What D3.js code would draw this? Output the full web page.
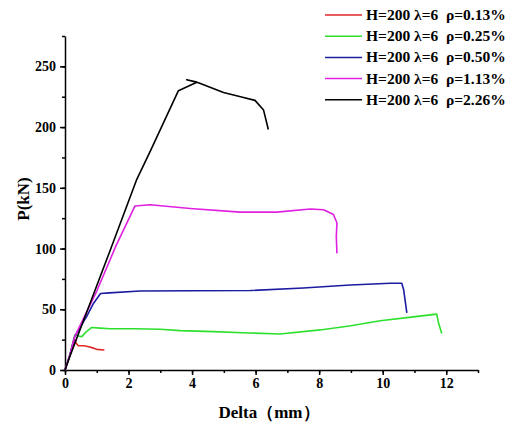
<!DOCTYPE html>
<html lang="en">
<head>
  <meta charset="UTF-8">
  <title>P-Delta curves</title>
  <script src="https://d3js.org/d3.v7.min.js"></script>
  <style>
    body { margin: 0; background: #fff; }
    text { font-family: "Liberation Serif", "Times New Roman", serif; font-weight: bold; }
    .tick text { font-size: 14px; }
    .axis path, .axis line { stroke: #000; stroke-width: 1.5; }
  </style>
</head>
<body>
<svg width="514" height="423"></svg>
<script>
  // legend labels
  const labels = [
    "H=200 λ=6  ρ=0.13%",
    "H=200 λ=6  ρ=0.25%",
    "H=200 λ=6  ρ=0.50%",
    "H=200 λ=6  ρ=1.13%",
    "H=200 λ=6  ρ=2.26%"
  ];
  const colors = ["#e02828", "#2ee02e", "#1c1ca0", "#e020e0", "#000000"];

  // [delta(mm), P(kN)]
  const red = [[0,0],[0.15,12],[0.31,25],[0.35,22],[0.42,20],[0.6,20],[0.75,19.2],[0.9,18],[1.0,17],[1.24,16.5]];
  const green = [[0,0],[0.15,12],[0.31,29],[0.42,28],[0.53,27.5],[0.65,31],[0.84,35],[1.1,34.5],[1.42,34],[2.2,34],[3.0,33.5],[3.62,32.4],[4.67,31.6],[5.8,30.5],[6.77,29.7],[8.03,33],[9.0,36.5],[9.92,40.6],[10.9,43.5],[11.7,46],[11.76,38.4],[11.86,30]];
  const blue = [[0,0],[0.15,12],[0.3,27],[0.45,34],[0.68,44],[0.9,55],[1.12,63],[1.4,63.5],[2.36,65],[4.0,65.2],[5.83,65.4],[7.5,67.5],[8.98,70],[10.24,71.4],[10.6,71.4],[10.66,66],[10.76,47]];
  const magenta = [[0,0],[0.15,12],[0.3,27],[0.5,38],[1.0,65],[1.6,102],[2.2,135],[2.68,136],[3.94,133],[5.51,130],[6.67,130],[7.72,132.6],[8.14,132],[8.45,128],[8.56,121],[8.54,110],[8.56,96]];
  const black = [[0,0],[0.15,11],[0.47,33],[1.4,97],[2.26,157],[2.7,181],[3.57,230],[4.15,237],[3.83,239],[4.2,236.5],[4.99,228.5],[5.62,224.4],[5.98,222],[6.25,214],[6.4,198]];
  const series = [red, green, blue, magenta, black];

  const xTicks = [0, 2, 4, 6, 8, 10, 12];
  const yTicks = [0, 50, 100, 150, 200, 250];

  const svg = d3.select("svg");
  const x = d3.scaleLinear().domain([0, 13]).range([65, 478]);
  const y = d3.scaleLinear().domain([0, 275]).range([370, 36]);

  // minor ticks
  svg.append("g")
    .attr("class", "axis")
    .attr("transform", "translate(0,370)")
    .call(d3.axisBottom(x).tickValues(d3.range(0, 14, 1)).tickSize(3).tickFormat(""))
    .select(".domain").remove();
  svg.append("g")
    .attr("class", "axis")
    .attr("transform", "translate(65,0)")
    .call(d3.axisLeft(y).tickValues(d3.range(0, 276, 25)).tickSize(3).tickFormat(""))
    .select(".domain").remove();

  // major axes
  svg.append("g")
    .attr("class", "axis")
    .attr("transform", "translate(0,370)")
    .call(d3.axisBottom(x).tickValues(xTicks).tickSize(5).tickSizeOuter(0).tickPadding(3));
  svg.append("g")
    .attr("class", "axis")
    .attr("transform", "translate(65,0)")
    .call(d3.axisLeft(y).tickValues(yTicks).tickSize(5).tickSizeOuter(0).tickPadding(4));

  // curves
  const line = d3.line().x(d => x(d[0])).y(d => y(d[1]));
  svg.selectAll(".curve")
    .data(series)
    .enter()
    .append("path")
    .attr("class", "curve")
    .attr("fill", "none")
    .attr("stroke", (d, i) => colors[i])
    .attr("stroke-width", 1.6)
    .attr("stroke-linejoin", "round")
    .attr("d", line);

  // axis titles
  svg.append("text")
    .attr("x", 269).attr("y", 418)
    .attr("text-anchor", "middle")
    .attr("font-size", 17)
    .text("Delta（mm）");
  svg.append("text")
    .attr("transform", "translate(29,199) rotate(-90)")
    .attr("text-anchor", "middle")
    .attr("font-size", 17)
    .text("P(kN)");

  // legend
  const legend = svg.append("g");
  labels.forEach((lab, i) => {
    const ly = 15 + i * 21.2;
    legend.append("line")
      .attr("x1", 325).attr("x2", 362)
      .attr("y1", ly).attr("y2", ly)
      .attr("stroke", colors[i]).attr("stroke-width", 1.5);
    legend.append("text")
      .attr("x", 366).attr("y", ly + 5)
      .attr("font-size", 15.5)
      .style("white-space", "pre")
      .text(lab);
  });
</script>
</body>
</html>
